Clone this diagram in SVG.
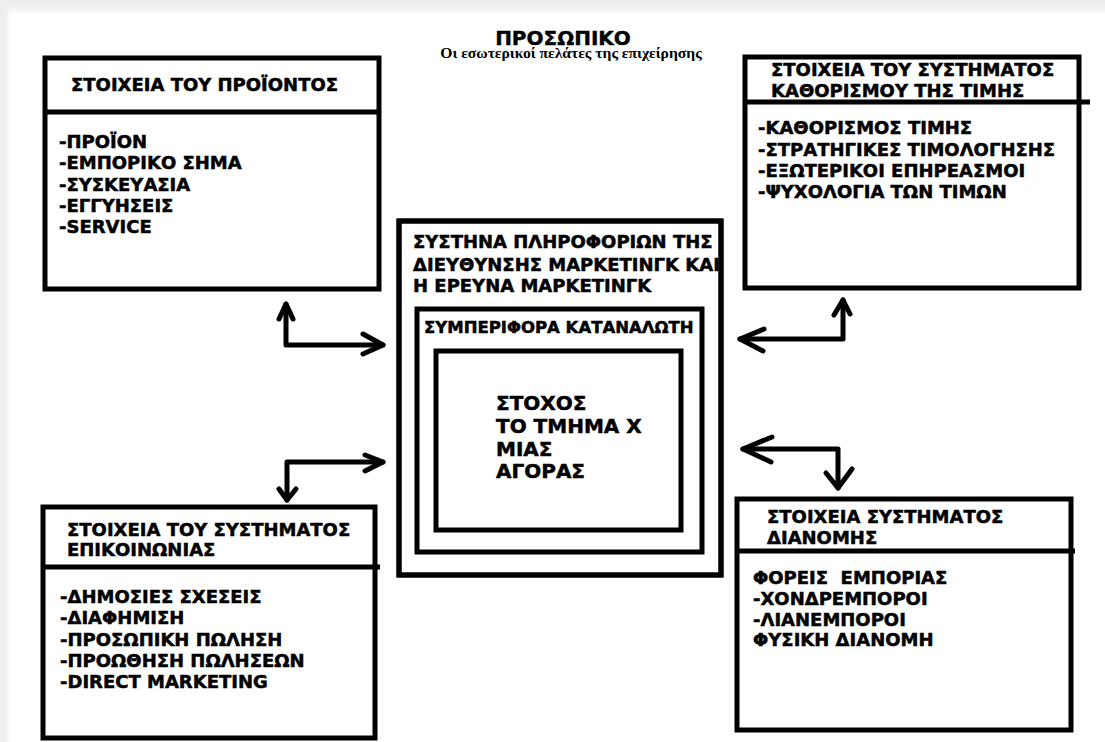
<svg xmlns="http://www.w3.org/2000/svg" width="1105" height="742" viewBox="0 0 1105 742">
  <style>
    .box { fill: #ffffff; stroke: #000000; stroke-width: 5; }
    .rule { stroke: #000000; stroke-width: 5; fill: none; }
    .t { font-family: "DejaVu Sans", Verdana, sans-serif; font-weight: bold; font-size: 18px; fill: #000000; stroke: #000000; stroke-width: 0.5; }
    .c { font-family: "DejaVu Sans", Verdana, sans-serif; font-weight: bold; font-size: 20px; fill: #000000; stroke: #000000; stroke-width: 0.5; }
    .h { font-family: "DejaVu Sans", Verdana, sans-serif; font-weight: bold; font-size: 20px; fill: #000000; stroke: #000000; stroke-width: 0.4; }
    .sub { font-family: "Liberation Serif", "Times New Roman", serif; font-weight: bold; font-size: 15.6px; fill: #000000; }
    .arrow { stroke: #000000; stroke-width: 5; fill: none; stroke-linecap: round; stroke-linejoin: round; }
  </style>
  <defs>
    <filter id="soft" x="-2%" y="-2%" width="104%" height="104%">
      <feGaussianBlur stdDeviation="2"/>
    </filter>
    <clipPath id="centerClip">
      <rect x="397" y="219" width="325" height="358"/>
    </clipPath>
  </defs>

  <!-- page -->
  <rect x="0" y="0" width="1105" height="742" fill="#eeeeee"/>
  <rect x="8" y="10" width="1110" height="750" fill="#ffffff" filter="url(#soft)"/>

  <!-- heading -->
  <g id="heading">
    <text class="h" x="563" y="45" text-anchor="middle">ΠΡΟΣΩΠΙΚΟ</text>
    <text class="sub" x="571" y="58" text-anchor="middle">Οι εσωτερικοί πελάτες της επιχείρησης</text>
  </g>

  <!-- product elements -->
  <g id="product">
    <rect class="box" x="45" y="58" width="334" height="231"/>
    <line class="rule" x1="45" y1="112" x2="379" y2="112"/>
    <text class="t" x="71" y="91">ΣΤΟΙΧΕΙΑ ΤΟΥ ΠΡΟΪΟΝΤΟΣ</text>
    <text class="t" x="59" y="148">-ΠΡΟΪΟΝ</text>
    <text class="t" x="59" y="169">-ΕΜΠΟΡΙΚΟ ΣΗΜΑ</text>
    <text class="t" x="59" y="191">-ΣΥΣΚΕΥΑΣΙΑ</text>
    <text class="t" x="59" y="212">-ΕΓΓΥΗΣΕΙΣ</text>
    <text class="t" x="59" y="233">-SERVICE</text>
  </g>

  <!-- pricing elements -->
  <g id="pricing">
    <rect class="box" x="745" y="57" width="334" height="231"/>
    <line class="rule" x1="745" y1="102" x2="1090" y2="102"/>
    <text class="t" x="771" y="76">ΣΤΟΙΧΕΙΑ ΤΟΥ ΣΥΣΤΗΜΑΤΟΣ</text>
    <text class="t" x="771" y="97">ΚΑΘΟΡΙΣΜΟΥ ΤΗΣ ΤΙΜΗΣ</text>
    <text class="t" x="758" y="134">-ΚΑΘΟΡΙΣΜΟΣ ΤΙΜΗΣ</text>
    <text class="t" x="758" y="156">-ΣΤΡΑΤΗΓΙΚΕΣ ΤΙΜΟΛΟΓΗΣΗΣ</text>
    <text class="t" x="758" y="177">-ΕΞΩΤΕΡΙΚΟΙ ΕΠΗΡΕΑΣΜΟΙ</text>
    <text class="t" x="758" y="198">-ΨΥΧΟΛΟΓΙΑ ΤΩΝ ΤΙΜΩΝ</text>
  </g>

  <!-- central nested boxes -->
  <g id="information-system">
    <rect class="box" x="399" y="221" width="322" height="354"/>
    <g clip-path="url(#centerClip)">
      <text class="t" x="413" y="248">ΣΥΣΤΗΝΑ ΠΛΗΡΟΦΟΡΙΩΝ ΤΗΣ</text>
      <text class="t" x="413" y="271">ΔΙΕΥΘΥΝΣΗΣ ΜΑΡΚΕΤΙΝΓΚ ΚΑΙ</text>
      <text class="t" x="413" y="292">Η ΕΡΕΥΝΑ ΜΑΡΚΕΤΙΝΓΚ</text>
    </g>
    <rect x="399" y="221" width="322" height="354" fill="none" stroke="#000" stroke-width="5"/>
  </g>
  <g id="consumer-behaviour">
    <rect class="box" x="417" y="309" width="285" height="243"/>
    <text class="t" x="424" y="333" style="font-size:16.5px">ΣΥΜΠΕΡΙΦΟΡΑ ΚΑΤΑΝΑΛΩΤΗ</text>
  </g>
  <g id="target">
    <rect class="box" x="436" y="351" width="245" height="179"/>
    <text class="c" x="496" y="410">ΣΤΟΧΟΣ</text>
    <text class="c" x="496" y="433">ΤΟ ΤΜΗΜΑ Χ</text>
    <text class="c" x="496" y="456">ΜΙΑΣ</text>
    <text class="c" x="496" y="478">ΑΓΟΡΑΣ</text>
  </g>

  <!-- communication elements -->
  <g id="communication">
    <rect class="box" x="43" y="507" width="332" height="231"/>
    <line class="rule" x1="43" y1="567" x2="380" y2="567"/>
    <text class="t" x="67" y="536">ΣΤΟΙΧΕΙΑ ΤΟΥ ΣΥΣΤΗΜΑΤΟΣ</text>
    <text class="t" x="67" y="556">ΕΠΙΚΟΙΝΩΝΙΑΣ</text>
    <text class="t" x="60" y="603">-ΔΗΜΟΣΙΕΣ ΣΧΕΣΕΙΣ</text>
    <text class="t" x="60" y="624">-ΔΙΑΦΗΜΙΣΗ</text>
    <text class="t" x="60" y="646">-ΠΡΟΣΩΠΙΚΗ ΠΩΛΗΣΗ</text>
    <text class="t" x="60" y="667">-ΠΡΟΩΘΗΣΗ ΠΩΛΗΣΕΩΝ</text>
    <text class="t" x="60" y="688">-DIRECT MARKETING</text>
  </g>

  <!-- distribution elements -->
  <g id="distribution">
    <rect class="box" x="737" y="499" width="334" height="231"/>
    <line class="rule" x1="737" y1="551" x2="1075" y2="551"/>
    <text class="t" x="767" y="523">ΣΤΟΙΧΕΙΑ ΣΥΣΤΗΜΑΤΟΣ</text>
    <text class="t" x="767" y="544">ΔΙΑΝΟΜΗΣ</text>
    <text class="t" x="753" y="584" xml:space="preserve">ΦΟΡΕΙΣ  ΕΜΠΟΡΙΑΣ</text>
    <text class="t" x="753" y="605">-ΧΟΝΔΡΕΜΠΟΡΟΙ</text>
    <text class="t" x="753" y="626">-ΛΙΑΝΕΜΠΟΡΟΙ</text>
    <text class="t" x="753" y="646">ΦΥΣΙΚΗ ΔΙΑΝΟΜΗ</text>
  </g>

  <!-- connectors: elbow arrows with open heads -->
  <g id="connectors">
    <!-- product <-> centre -->
    <polyline class="arrow" points="286,304 286,345 383,345"/>
    <polyline class="arrow" points="279,319 286,304 293,319"/>
    <polyline class="arrow" points="363,334 383,345 363,354"/>
    <!-- pricing <-> centre -->
    <polyline class="arrow" points="843,300 843,339 740,339"/>
    <polyline class="arrow" points="834,315 843,300 850,314"/>
    <polyline class="arrow" points="764,329 740,339 763,351"/>
    <!-- communication <-> centre -->
    <polyline class="arrow" points="383,462 287,462 287,500"/>
    <polyline class="arrow" points="365,455 383,462 365,471"/>
    <polyline class="arrow" points="279,489 287,500 296,489"/>
    <!-- distribution <-> centre -->
    <polyline class="arrow" points="743,449 838,449 838,488"/>
    <polyline class="arrow" points="772,437 743,449 771,462"/>
    <polyline class="arrow" points="826,473 838,488 852,469"/>
  </g>
</svg>
